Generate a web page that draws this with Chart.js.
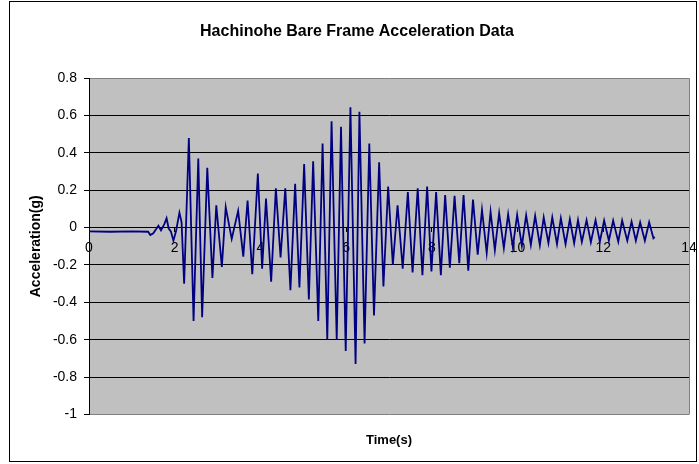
<!DOCTYPE html>
<html>
<head>
<meta charset="utf-8">
<title>Hachinohe Bare Frame Acceleration Data</title>
<script src="https://cdn.jsdelivr.net/npm/chart.js@4.4.1/dist/chart.umd.min.js"></script>
<style>
    html, body { margin: 0; padding: 0; background: #fff; }
    #wrap { position: relative; width: 699px; height: 464px; }
</style>
</head>
<body>
<div id="wrap"><canvas id="chart" width="699" height="464"></canvas></div>
<script>
// --- DATOS ---
const chartTitle = 'Hachinohe Bare Frame Acceleration Data';
const xTitle = 'Time(s)';
const yTitle = 'Acceleration(g)';

// tiempo (s) de cada punto
const timeS = [
    0.00, 0.50, 1.00, 1.38, 1.43, 1.50, 1.56, 1.62, 1.68, 1.76, 1.81, 1.86, 1.91, 1.97, 2.03, 2.11, 2.16,
    2.22, 2.33, 2.44, 2.55, 2.64, 2.76, 2.88, 2.97, 3.10, 3.19, 3.33, 3.48, 3.60, 3.70, 3.81, 3.94,
    4.04, 4.13, 4.25, 4.36, 4.47, 4.58, 4.70, 4.81, 4.91, 5.02, 5.13, 5.23, 5.35, 5.45, 5.56, 5.66,
    5.78, 5.88, 5.99, 6.10, 6.22, 6.31, 6.43, 6.54, 6.65, 6.77, 6.87, 6.98, 7.09, 7.20, 7.32, 7.44,
    7.55, 7.67, 7.78, 7.89, 7.99, 8.10, 8.21, 8.31, 8.42, 8.53, 8.64, 8.74, 8.85, 8.96, 9.07, 9.17,
    9.28, 9.37, 9.47, 9.57, 9.68, 9.78, 9.89, 9.99, 10.10, 10.20, 10.31, 10.41, 10.52, 10.61, 10.72, 10.81,
    10.92, 11.01, 11.12, 11.22, 11.32, 11.41, 11.50, 11.61, 11.71, 11.82, 11.92, 12.02, 12.13, 12.23, 12.35, 12.44,
    12.56, 12.66, 12.76, 12.86, 12.97, 13.07, 13.17, 13.20
];

// aceleración (g) en cada tiempo
const accelG = [
    -0.020, -0.022, -0.020, -0.022, -0.040, -0.030, -0.010, 0.010, -0.015, 0.020, 0.050, -0.005, -0.020, -0.070, -0.020, 0.080, 0.030,
    -0.300, 0.480, -0.500, 0.370, -0.480, 0.320, -0.270, 0.120, -0.210, 0.110, -0.060, 0.090, -0.155, 0.145, -0.250, 0.290,
    -0.220, 0.155, -0.290, 0.210, -0.160, 0.210, -0.335, 0.235, -0.320, 0.340, -0.385, 0.355, -0.500, 0.450, -0.600, 0.570,
    -0.600, 0.540, -0.660, 0.645, -0.730, 0.620, -0.620, 0.450, -0.470, 0.350, -0.315, 0.220, -0.200, 0.120, -0.220, 0.190,
    -0.240, 0.210, -0.255, 0.220, -0.235, 0.190, -0.255, 0.175, -0.215, 0.170, -0.190, 0.175, -0.230, 0.150, -0.145, 0.095,
    -0.135, 0.085, -0.120, 0.077, -0.110, 0.072, -0.105, 0.068, -0.097, 0.066, -0.092, 0.063, -0.094, 0.055, -0.083, 0.055,
    -0.088, 0.050, -0.088, 0.045, -0.083, 0.040, -0.076, 0.040, -0.078, 0.040, -0.075, 0.038, -0.070, 0.038, -0.075, 0.038,
    -0.070, 0.032, -0.070, 0.029, -0.070, 0.029, -0.057, -0.050
];

// ejes
const xRange = [0, 14];
const xStep = 2;
const yRange = [-1, 0.8];
const yStep = 0.2;

const FONT = 'Arial, "Liberation Sans", sans-serif';

// --- FONDO GRIS DEL ÁREA Y MARCO EXTERIOR ---
const excelFrame = {
    id: 'excelFrame',
    beforeDraw(chart) {
        const { ctx, chartArea: a } = chart;
        ctx.save();
        ctx.fillStyle = '#fff';
        ctx.fillRect(0, 0, chart.width, chart.height);
        ctx.fillStyle = '#c0c0c0';
        ctx.fillRect(a.left, a.top, a.right - a.left, a.bottom - a.top);
        ctx.restore();
    },
    beforeDatasetsDraw(chart) {
        const { ctx, chartArea: a } = chart;
        ctx.save();
        ctx.strokeStyle = '#808080';
        ctx.lineWidth = 1;
        ctx.beginPath();
        ctx.moveTo(Math.round(a.right) + 0.5, a.top);
        ctx.lineTo(Math.round(a.right) + 0.5, a.bottom);
        ctx.stroke();
        ctx.restore();
    },
    afterDraw(chart) {
        const { ctx } = chart;
        ctx.save();
        ctx.strokeStyle = '#000';
        ctx.lineWidth = 1;
        ctx.strokeRect(9.5, 1.5, 687, 460);
        ctx.restore();
    }
};

const points = timeS.map((t, i) => ({ x: t, y: accelG[i] }));

new Chart(document.getElementById('chart'), {
    type: 'line',
    data: {
        datasets: [{
            label: 'Acceleration',
            data: points,
            borderColor: '#000080',
            borderWidth: 1.8,
            pointRadius: 0,
            tension: 0,
            fill: false
        }]
    },
    options: {
        responsive: false,
        animation: false,
        layout: { padding: { left: 25, right: 10, top: 0, bottom: 0 } },
        plugins: {
            legend: { display: false },
            tooltip: { enabled: false },
            title: {
                display: true,
                text: chartTitle,
                color: '#000',
                font: { family: FONT, size: 16, weight: 'bold' },
                padding: { top: 22, bottom: 37 }
            },
            subtitle: {
                display: true,
                position: 'bottom',
                fullSize: false,
                text: xTitle,
                color: '#000',
                font: { family: FONT, size: 13, weight: 'bold' },
                padding: { top: 18, bottom: 16 }
            }
        },
        scales: {
            x: {
                type: 'linear',
                min: xRange[0],
                max: xRange[1],
                position: { y: 0 },
                ticks: {
                    stepSize: xStep,
                    color: '#000',
                    font: { family: FONT, size: 14 },
                    padding: 8,
                    maxRotation: 0,
                    autoSkip: false
                },
                grid: { drawOnChartArea: false, drawTicks: true, tickLength: 4, color: '#000' },
                border: { color: '#000', width: 1 },
                afterFit(scale) { scale.paddingLeft = 0; scale.paddingRight = 0; }
            },
            y: {
                type: 'linear',
                min: yRange[0],
                max: yRange[1],
                ticks: {
                    stepSize: yStep,
                    color: '#000',
                    font: { family: FONT, size: 14 },
                    padding: 7,
                    callback: v => String(Math.round(v * 10) / 10)
                },
                grid: {
                    color: ctx => {
                        const v = ctx.tick ? Math.round(ctx.tick.value * 10) / 10 : 0;
                        return (v === yRange[0] || v === yRange[1]) ? '#808080' : '#000';
                    },
                    tickColor: '#000',
                    tickLength: 5,
                    drawTicks: true
                },
                border: { color: '#000', width: 1 },
                title: {
                    display: true,
                    text: yTitle,
                    color: '#000',
                    font: { family: FONT, size: 14, weight: 'bold' },
                    padding: { top: 3, bottom: 0 }
                },
                afterFit(scale) { scale.width = 64; }
            }
        }
    },
    plugins: [excelFrame]
});
</script>
</body>
</html>
